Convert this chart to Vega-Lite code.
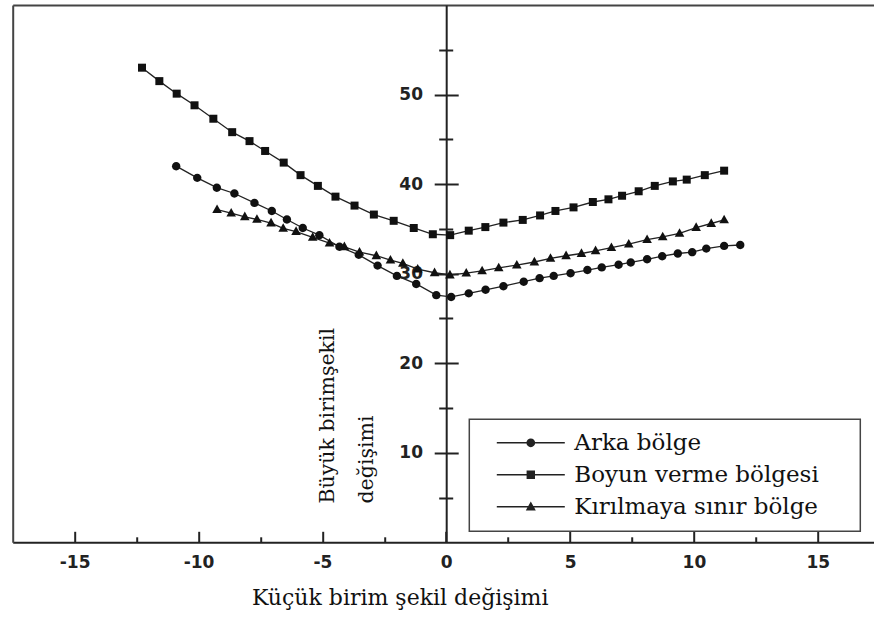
{
  "$schema": "https://vega.github.io/schema/vega-lite/v6.json",
  "width": 861.3,
  "height": 537.3,
  "autosize": {"type": "none"},
  "padding": {"left": 12.7, "top": 5, "right": 0, "bottom": 74.7},
  "background": "white",
  "config": {
    "view": {"stroke": null},
    "axis": {
      "grid": false,
      "domainColor": "#222",
      "domainWidth": 2,
      "tickColor": "#222",
      "tickWidth": 2,
      "labelFont": "DejaVu Sans",
      "labelFontSize": 17,
      "labelFontWeight": "bold",
      "labelColor": "#222",
      "titleFont": "DejaVu Serif",
      "titleFontWeight": "normal",
      "titleColor": "#111"
    },
    "legend": {
      "padding": 12,
      "strokeColor": "#444",
      "strokeWidth": 1.5,
      "fillColor": "white",
      "labelFont": "DejaVu Serif",
      "labelFontSize": 23,
      "labelColor": "#111",
      "labelLimit": 500,
      "symbolSize": 64,
      "symbolOffset": 38,
      "labelOffset": 32,
      "rowPadding": 8,
      "symbolFillColor": "#222",
      "symbolStrokeColor": "#222",
      "symbolStrokeWidth": 1.4,
      "symbolOpacity": 1
    }
  },
  "data": {
    "values": [
      {"series": "Boyun verme bölgesi", "x": -12.28, "y": 53.0},
      {"series": "Boyun verme bölgesi", "x": -11.58, "y": 51.5},
      {"series": "Boyun verme bölgesi", "x": -10.88, "y": 50.1},
      {"series": "Boyun verme bölgesi", "x": -10.16, "y": 48.8},
      {"series": "Boyun verme bölgesi", "x": -9.40, "y": 47.3},
      {"series": "Boyun verme bölgesi", "x": -8.64, "y": 45.8},
      {"series": "Boyun verme bölgesi", "x": -7.94, "y": 44.8},
      {"series": "Boyun verme bölgesi", "x": -7.31, "y": 43.7},
      {"series": "Boyun verme bölgesi", "x": -6.56, "y": 42.4},
      {"series": "Boyun verme bölgesi", "x": -5.88, "y": 41.0},
      {"series": "Boyun verme bölgesi", "x": -5.18, "y": 39.8},
      {"series": "Boyun verme bölgesi", "x": -4.47, "y": 38.6},
      {"series": "Boyun verme bölgesi", "x": -3.70, "y": 37.6},
      {"series": "Boyun verme bölgesi", "x": -2.92, "y": 36.6},
      {"series": "Boyun verme bölgesi", "x": -2.12, "y": 35.9},
      {"series": "Boyun verme bölgesi", "x": -1.31, "y": 35.1},
      {"series": "Boyun verme bölgesi", "x": -0.54, "y": 34.4},
      {"series": "Boyun verme bölgesi", "x": 0.16, "y": 34.3},
      {"series": "Boyun verme bölgesi", "x": 0.91, "y": 34.8},
      {"series": "Boyun verme bölgesi", "x": 1.58, "y": 35.2},
      {"series": "Boyun verme bölgesi", "x": 2.31, "y": 35.7},
      {"series": "Boyun verme bölgesi", "x": 3.09, "y": 36.0},
      {"series": "Boyun verme bölgesi", "x": 3.79, "y": 36.5},
      {"series": "Boyun verme bölgesi", "x": 4.41, "y": 37.0},
      {"series": "Boyun verme bölgesi", "x": 5.14, "y": 37.4},
      {"series": "Boyun verme bölgesi", "x": 5.92, "y": 38.0},
      {"series": "Boyun verme bölgesi", "x": 6.55, "y": 38.3},
      {"series": "Boyun verme bölgesi", "x": 7.10, "y": 38.7},
      {"series": "Boyun verme bölgesi", "x": 7.77, "y": 39.2},
      {"series": "Boyun verme bölgesi", "x": 8.42, "y": 39.8},
      {"series": "Boyun verme bölgesi", "x": 9.15, "y": 40.3},
      {"series": "Boyun verme bölgesi", "x": 9.71, "y": 40.5},
      {"series": "Boyun verme bölgesi", "x": 10.44, "y": 41.0},
      {"series": "Boyun verme bölgesi", "x": 11.22, "y": 41.5},
      {"series": "Arka bölge", "x": -10.90, "y": 42.0},
      {"series": "Arka bölge", "x": -10.05, "y": 40.7},
      {"series": "Arka bölge", "x": -9.26, "y": 39.6},
      {"series": "Arka bölge", "x": -8.55, "y": 38.95},
      {"series": "Arka bölge", "x": -7.74, "y": 37.9},
      {"series": "Arka bölge", "x": -7.04, "y": 37.0},
      {"series": "Arka bölge", "x": -6.43, "y": 36.05},
      {"series": "Arka bölge", "x": -5.79, "y": 35.1},
      {"series": "Arka bölge", "x": -5.12, "y": 34.3},
      {"series": "Arka bölge", "x": -4.31, "y": 33.0},
      {"series": "Arka bölge", "x": -3.53, "y": 32.1},
      {"series": "Arka bölge", "x": -2.77, "y": 30.9},
      {"series": "Arka bölge", "x": -1.99, "y": 29.75},
      {"series": "Arka bölge", "x": -1.21, "y": 28.85},
      {"series": "Arka bölge", "x": -0.40, "y": 27.6},
      {"series": "Arka bölge", "x": 0.20, "y": 27.4},
      {"series": "Arka bölge", "x": 0.91, "y": 27.8},
      {"series": "Arka bölge", "x": 1.59, "y": 28.2},
      {"series": "Arka bölge", "x": 2.31, "y": 28.6},
      {"series": "Arka bölge", "x": 3.13, "y": 29.1},
      {"series": "Arka bölge", "x": 3.77, "y": 29.5},
      {"series": "Arka bölge", "x": 4.34, "y": 29.75},
      {"series": "Arka bölge", "x": 5.02, "y": 30.05},
      {"series": "Arka bölge", "x": 5.70, "y": 30.4},
      {"series": "Arka bölge", "x": 6.28, "y": 30.7},
      {"series": "Arka bölge", "x": 6.96, "y": 31.0},
      {"series": "Arka bölge", "x": 7.45, "y": 31.25},
      {"series": "Arka bölge", "x": 8.11, "y": 31.6},
      {"series": "Arka bölge", "x": 8.72, "y": 31.95},
      {"series": "Arka bölge", "x": 9.35, "y": 32.25},
      {"series": "Arka bölge", "x": 9.93, "y": 32.4},
      {"series": "Arka bölge", "x": 10.50, "y": 32.8},
      {"series": "Arka bölge", "x": 11.22, "y": 33.1},
      {"series": "Arka bölge", "x": 11.87, "y": 33.2},
      {"series": "Kırılmaya sınır bölge", "x": -9.25, "y": 37.15},
      {"series": "Kırılmaya sınır bölge", "x": -8.68, "y": 36.75},
      {"series": "Kırılmaya sınır bölge", "x": -8.13, "y": 36.35},
      {"series": "Kırılmaya sınır bölge", "x": -7.64, "y": 36.05},
      {"series": "Kırılmaya sınır bölge", "x": -7.07, "y": 35.65},
      {"series": "Kırılmaya sınır bölge", "x": -6.58, "y": 35.05},
      {"series": "Kırılmaya sınır bölge", "x": -6.06, "y": 34.7},
      {"series": "Kırılmaya sınır bölge", "x": -5.39, "y": 34.05},
      {"series": "Kırılmaya sınır bölge", "x": -4.71, "y": 33.4},
      {"series": "Kırılmaya sınır bölge", "x": -4.11, "y": 33.0},
      {"series": "Kırılmaya sınır bölge", "x": -3.50, "y": 32.4},
      {"series": "Kırılmaya sınır bölge", "x": -2.82, "y": 32.0},
      {"series": "Kırılmaya sınır bölge", "x": -2.25, "y": 31.5},
      {"series": "Kırılmaya sınır bölge", "x": -1.75, "y": 31.15},
      {"series": "Kırılmaya sınır bölge", "x": -1.15, "y": 30.5},
      {"series": "Kırılmaya sınır bölge", "x": -0.47, "y": 30.1},
      {"series": "Kırılmaya sınır bölge", "x": 0.15, "y": 29.85},
      {"series": "Kırılmaya sınır bölge", "x": 0.81, "y": 30.05},
      {"series": "Kırılmaya sınır bölge", "x": 1.45, "y": 30.3},
      {"series": "Kırılmaya sınır bölge", "x": 2.12, "y": 30.65},
      {"series": "Kırılmaya sınır bölge", "x": 2.85, "y": 30.95},
      {"series": "Kırılmaya sınır bölge", "x": 3.56, "y": 31.3},
      {"series": "Kırılmaya sınır bölge", "x": 4.21, "y": 31.7},
      {"series": "Kırılmaya sınır bölge", "x": 4.84, "y": 32.0},
      {"series": "Kırılmaya sınır bölge", "x": 5.46, "y": 32.25},
      {"series": "Kırılmaya sınır bölge", "x": 6.03, "y": 32.55},
      {"series": "Kırılmaya sınır bölge", "x": 6.67, "y": 32.9},
      {"series": "Kırılmaya sınır bölge", "x": 7.37, "y": 33.3},
      {"series": "Kırılmaya sınır bölge", "x": 8.11, "y": 33.8},
      {"series": "Kırılmaya sınır bölge", "x": 8.74, "y": 34.1},
      {"series": "Kırılmaya sınır bölge", "x": 9.42, "y": 34.5},
      {"series": "Kırılmaya sınır bölge", "x": 10.09, "y": 35.15},
      {"series": "Kırılmaya sınır bölge", "x": 10.70, "y": 35.6},
      {"series": "Kırılmaya sınır bölge", "x": 11.22, "y": 36.0}
    ]
  },
  "resolve": {
    "axis": {"x": "independent", "y": "independent"}
  },
  "layer": [
    {
      "mark": {"type": "line", "color": "#222", "strokeWidth": 1.3},
      "encoding": {
        "x": {
          "field": "x", "type": "quantitative",
          "scale": {"domain": [-17.5, 17.27], "nice": false, "zero": false},
          "axis": {
            "orient": "bottom",
            "values": [-15, -10, -5, 0, 5, 10, 15],
            "tickSize": -11,
            "labelPadding": 22.7,
            "labelExpr": "'' + datum.value",
            "title": "Küçük birim şekil değişimi",
            "titleFontSize": 22,
            "titleAlign": "center",
            "titleBaseline": "alphabetic",
            "titleX": 387,
            "titleY": 61.7
          }
        },
        "y": {
          "field": "y", "type": "quantitative",
          "scale": {"domain": [0, 60], "nice": false, "zero": false},
          "axis": {
            "orient": "left",
            "offset": -433.5,
            "values": [10, 20, 30, 40, 50],
            "tickSize": 12,
            "labelPadding": 11.7,
            "title": ["Büyük birimşekil", "değişimi"],
            "titleFontSize": 20.5,
            "titleAngle": 270,
            "titleAlign": "left",
            "titleBaseline": "alphabetic",
            "titleLineHeight": 39,
            "titleX": -113,
            "titleY": 498
          }
        },
        "detail": {"field": "series", "type": "nominal"}
      }
    },
    {
      "transform": [{"filter": "datum.series === 'Arka bölge'"}],
      "mark": {"type": "point", "filled": true, "color": "#111", "opacity": 1, "size": 64, "shape": "M-1.05,0A1.05,1.05,0,1,1,1.05,0A1.05,1.05,0,1,1,-1.05,0Z"},
      "encoding": {
        "x": {
          "field": "x", "type": "quantitative",
          "scale": {"domain": [-17.5, 17.27], "nice": false, "zero": false},
          "axis": {"orient": "bottom", "values": [-12.5, -7.5, -2.5, 2.5, 7.5, 12.5], "tickSize": -5.5, "labels": false, "domain": false, "title": null}
        },
        "y": {
          "field": "y", "type": "quantitative",
          "scale": {"domain": [0, 60], "nice": false, "zero": false},
          "axis": {"orient": "left", "offset": -433.5, "values": [5, 15, 25, 35, 45, 55], "tickSize": 7.5, "labels": false, "domain": false, "title": null}
        }
      }
    },
    {
      "transform": [{"filter": "datum.series === 'Boyun verme bölgesi'"}],
      "mark": {"type": "point", "filled": true, "color": "#111", "opacity": 1, "size": 64, "shape": "M-1,-1H1V1H-1Z"},
      "encoding": {
        "x": {"field": "x", "type": "quantitative", "scale": {"domain": [-17.5, 17.27], "nice": false, "zero": false}, "axis": null},
        "y": {"field": "y", "type": "quantitative", "scale": {"domain": [0, 60], "nice": false, "zero": false}, "axis": null}
      }
    },
    {
      "transform": [{"filter": "datum.series === 'Kırılmaya sınır bölge'"}],
      "mark": {"type": "point", "filled": true, "color": "#111", "opacity": 1, "size": 64, "shape": "M0,-1.3L1.2,0.85L-1.2,0.85Z"},
      "encoding": {
        "x": {"field": "x", "type": "quantitative", "scale": {"domain": [-17.5, 17.27], "nice": false, "zero": false}, "axis": null},
        "y": {"field": "y", "type": "quantitative", "scale": {"domain": [0, 60], "nice": false, "zero": false}, "axis": null}
      }
    },
    {
      "data": {"values": []},
      "mark": {"type": "point", "filled": true, "color": "#222", "opacity": 1},
      "encoding": {
        "x": {
          "field": "x", "type": "quantitative",
          "scale": {"domain": [-17.5, 17.27], "nice": false, "zero": false},
          "axis": {"orient": "top", "ticks": false, "labels": false, "domain": true, "domainColor": "#444", "title": null}
        },
        "y": {
          "field": "y", "type": "quantitative",
          "scale": {"domain": [0, 60], "nice": false, "zero": false},
          "axis": {"orient": "right", "offset": -427.8, "values": [10, 20, 30, 40, 50], "tickSize": 12, "labels": false, "domain": false, "title": null}
        },
        "shape": {
          "field": "series", "type": "nominal",
          "scale": {
            "domain": ["Arka bölge", "Boyun verme bölgesi", "Kırılmaya sınır bölge"],
            "range": [
              "M-8.5,-0.18L8.5,-0.18L8.5,0.18L-8.5,0.18ZM-1.1,0A1.1,1.1,0,1,1,1.1,0A1.1,1.1,0,1,1,-1.1,0Z",
              "M-8.5,-0.18L8.5,-0.18L8.5,0.18L-8.5,0.18ZM-1.05,-1.05L1.05,-1.05L1.05,1.05L-1.05,1.05Z",
              "M-8.5,-0.18L8.5,-0.18L8.5,0.18L-8.5,0.18ZM0,-1.35L1.25,0.9L-1.25,0.9Z"
            ]
          },
          "legend": {
            "title": null,
            "orient": "none",
            "legendX": 456.6,
            "legendY": 414.3,
            "labelExpr": "datum.label + '\u00a0\u00a0\u00a0\u00a0\u200b'"
          }
        }
      }
    },
    {
      "data": {"values": []},
      "mark": {"type": "point"},
      "encoding": {
        "x": {"field": "x", "type": "quantitative", "scale": {"domain": [-17.5, 17.27], "nice": false, "zero": false}, "axis": null},
        "y": {
          "field": "y", "type": "quantitative",
          "scale": {"domain": [0, 60], "nice": false, "zero": false},
          "axis": {"orient": "right", "offset": -427.8, "values": [5, 15, 25, 35, 45, 55], "tickSize": 6.5, "labels": false, "domain": false, "title": null}
        }
      }
    },
    {
      "data": {"values": []},
      "mark": {"type": "point"},
      "encoding": {
        "x": {"field": "x", "type": "quantitative", "scale": {"domain": [-17.5, 17.27], "nice": false, "zero": false}, "axis": null},
        "y": {
          "field": "y", "type": "quantitative",
          "scale": {"domain": [0, 60], "nice": false, "zero": false},
          "axis": {"orient": "left", "ticks": false, "labels": false, "domain": true, "domainColor": "#444", "title": null}
        }
      }
    }
  ]
}
